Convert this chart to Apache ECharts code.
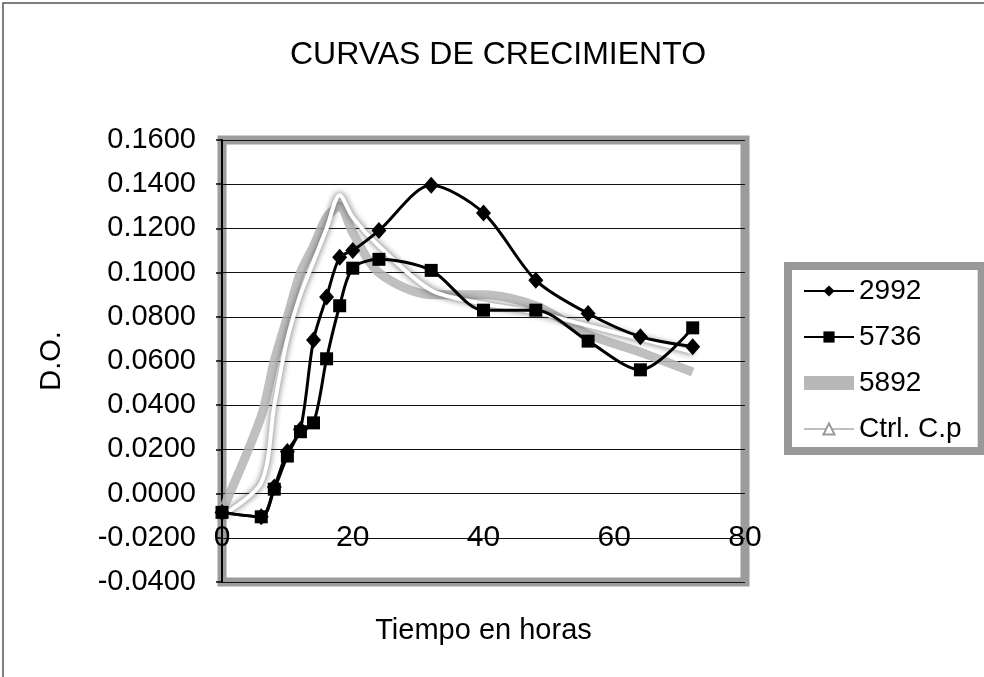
<!DOCTYPE html>
<html>
<head>
<meta charset="utf-8">
<script src="https://cdn.jsdelivr.net/npm/echarts@6/dist/echarts.min.js"></script>
<style>
html,body{margin:0;padding:0;background:#fff;}
#c{width:984px;height:677px;}
</style>
</head>
<body>
<div id="c"></div>
<script>
const chartTitle = 'CURVAS DE CRECIMIENTO';
const xName = 'Tiempo en horas';
const yName = 'D.O.';
const seriesNames = ['2992', '5736', '5892', 'Ctrl. C.p'];
const tiempo = [0, 6, 8, 10, 12, 14, 16, 18, 20, 24, 32, 40, 48, 56, 64, 72];
const s2992 = [-0.0085, -0.0105, 0.003, 0.019, 0.029, 0.0695, 0.089, 0.107, 0.110, 0.119, 0.1395, 0.127, 0.0965, 0.0815, 0.071, 0.0665];
const s5736 = [-0.0085, -0.0105, 0.002, 0.017, 0.028, 0.032, 0.061, 0.085, 0.102, 0.106, 0.101, 0.083, 0.083, 0.069, 0.056, 0.075];
const s5892 = [-0.010, 0.005, 0.040, 0.070, 0.090, 0.105, 0.120, 0.135, 0.125, 0.112, 0.092, 0.086, 0.082, 0.076, 0.070, 0.064];
const sCtrl = [-0.008, 0.035, 0.060, 0.080, 0.100, 0.112, 0.125, 0.130, 0.118, 0.100, 0.090, 0.090, 0.085, 0.072, 0.064, 0.055];
const xTicks = [0, 20, 40, 60, 80];
const yMin = -0.04, yMax = 0.16, yStep = 0.02;

function pairs(vals) { return tiempo.map((t, i) => [t, vals[i]]); }

const chart = echarts.init(document.getElementById('c'), null, {renderer: 'canvas'});
const font = 'Liberation Sans, Arial, sans-serif';
chart.setOption({
  animation: false,
  backgroundColor: '#ffffff',
  title: {
    text: chartTitle, left: 290, top: 39, padding: 0,
    textStyle: {fontFamily: font, fontSize: 32, fontWeight: 'normal', color: '#000'}
  },
  legend: {
    orient: 'vertical', left: 788, top: 266,
    padding: [10, 20, 7, 15],
    itemWidth: 50, itemHeight: 14, itemGap: 16,
    backgroundColor: '#ffffff', borderColor: '#999999', borderWidth: 8, borderRadius: 0,
    data: [
      seriesNames[0],
      seriesNames[1],
      {name: seriesNames[2], icon: 'rect', itemStyle: {color: '#b8b8b8'}},
      seriesNames[3]
    ],
    textStyle: {fontFamily: font, fontSize: 28, color: '#000', lineHeight: 30}
  },
  graphic: [{
    type: 'rect', silent: true, z: -10,
    shape: {x: 3, y: 3, width: 1000, height: 700},
    style: {fill: null, stroke: '#555', lineWidth: 1.5}
  }],
  grid: {
    left: 222, top: 140, width: 523, height: 442,
    show: true, backgroundColor: '#ffffff', borderColor: '#9c9c9c', borderWidth: 9
  },
  xAxis: {
    type: 'value', min: 0, max: 80, interval: 20,
    name: xName, nameLocation: 'middle', nameGap: 34,
    nameTextStyle: {fontFamily: font, fontSize: 29, color: '#000'},
    axisLine: {show: false, onZero: false},
    axisTick: {show: false},
    splitLine: {show: false},
    axisLabel: {
      margin: -44, verticalAlign: 'middle',
      fontFamily: font, fontSize: 30, color: '#000',
      formatter: v => xTicks.includes(v) ? String(v) : ''
    }
  },
  yAxis: {
    type: 'value', min: yMin, max: yMax, interval: yStep,
    name: yName, nameLocation: 'middle', nameGap: 156,
    nameTextStyle: {fontFamily: font, fontSize: 29, color: '#000'},
    axisLine: {show: true, lineStyle: {color: '#000', width: 2}},
    axisTick: {show: true, length: 6, lineStyle: {color: '#000', width: 1.5}},
    splitLine: {show: true, lineStyle: {color: '#111', width: 1.2}},
    axisLabel: {
      margin: 26, fontFamily: font, fontSize: 29, color: '#000',
      formatter: v => (Math.abs(v) < 1e-9 ? 0 : v).toFixed(4)
    }
  },
  series: [
    {
      name: seriesNames[3], type: 'line', data: pairs(sCtrl), smooth: 0.3, z: 1,
      symbol: 'triangle', showSymbol: false, symbolSize: 14,
      itemStyle: {color: '#ffffff', borderColor: '#9a9a9a', borderWidth: 2},
      lineStyle: {color: '#b4b4b4', width: 9, opacity: 0.85}
    },
    {
      name: seriesNames[2], type: 'line', data: pairs(s5892), smooth: 0.3, z: 2,
      symbol: 'none',
      itemStyle: {color: '#b8b8b8'},
      lineStyle: {color: '#ffffff', width: 4, shadowColor: 'rgba(60,60,60,0.9)', shadowBlur: 6}
    },
    {
      name: seriesNames[1], type: 'line', data: pairs(s5736), smooth: 0.3, z: 3,
      symbol: 'rect', symbolSize: 13,
      itemStyle: {color: '#000'},
      lineStyle: {color: '#000', width: 3}
    },
    {
      name: seriesNames[0], type: 'line', data: pairs(s2992), smooth: 0.3, z: 4,
      symbol: 'diamond', symbolSize: [15, 17],
      itemStyle: {color: '#000'},
      lineStyle: {color: '#000', width: 3}
    }
  ]
});
</script>
</body>
</html>
